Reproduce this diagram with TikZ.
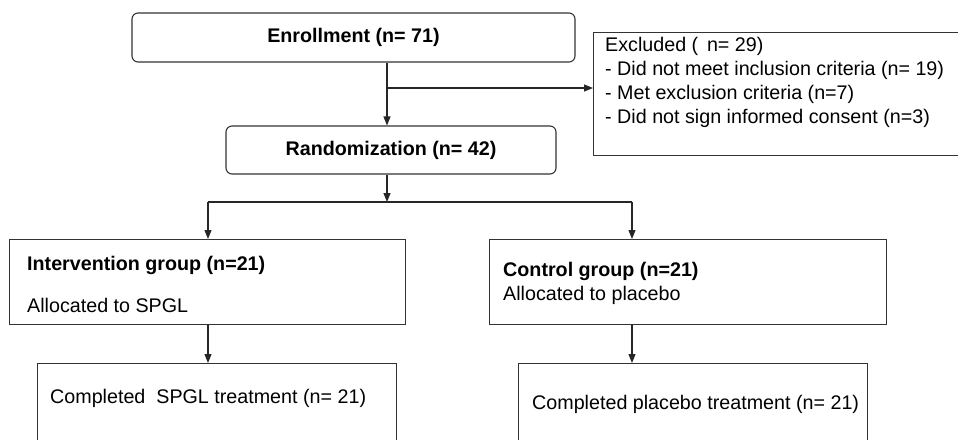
\documentclass[tikz,border=0pt]{standalone}
\usepackage{fontspec}
\setmainfont{Liberation Sans}
\usetikzlibrary{arrows.meta}

\tikzset{
  roundbox/.style={draw=black!80, line width=1.1pt, rounded corners=6pt, inner sep=0pt},
  plainbox/.style={draw=black!80, line width=1.1pt, inner sep=0pt, anchor=north west},
  boxtext/.style={inner sep=0pt, anchor=west},
  flow/.style={draw=black!85, line width=1.1pt, -{Triangle[length=9pt,width=7pt]}},
}

\begin{document}
\begin{tikzpicture}[x=1pt,y=-1pt,font=\fontsize{19.7}{24}\selectfont]
  \useasboundingbox (0,0) rectangle (958,439);

  % top part
  \node[roundbox, minimum width=443pt, minimum height=49pt] (enrol) at (353.5,37.5) {\textbf{Enrollment (n= 71)}};
  \node[roundbox, minimum width=330pt, minimum height=48pt] (random) at (391,150) {\textbf{Randomization (n= 42)}};

  \node[plainbox, minimum width=380pt, minimum height=123pt] (excl) at (593,32) {};
  \node[inner sep=0pt, anchor=north west, align=left] (excltext) at (605,37)
    {Excluded (\, n= 29)\\- Did not meet inclusion criteria (n= 19)\\- Met exclusion criteria (n=7)\\- Did not sign informed consent (n=3)};

  \coordinate (split) at (387,88);
  \draw[flow] (split |- enrol.south) -- (split |- random.north);
  \draw[flow] (split) -- (split -| excl.west);

  % groups
  \coordinate (fork) at (387,202);
  \coordinate (forkl) at (208,202);
  \coordinate (forkr) at (632,202);

  \node[plainbox, minimum width=396pt, minimum height=85pt] (interv) at (9,239) {};
  \node[boxtext] (intervhead) at (27,265) {\textbf{Intervention group (n=21)}};
  \node[boxtext] (intervalloc) at (27,305) {Allocated to SPGL};

  \node[plainbox, minimum width=397pt, minimum height=85pt] (control) at (489,239) {};
  \node[boxtext] (controlhead) at (503,271) {\textbf{Control group (n=21)}};
  \node[boxtext] (controlalloc) at (503,295) {Allocated to placebo};

  \node[plainbox, minimum width=359pt, minimum height=100pt] (doneint) at (37,363) {};
  \node[boxtext] (doneinttext) at (50,398) {Completed \ SPGL treatment (n= 21)};

  \node[plainbox, minimum width=349pt, minimum height=100pt] (donectl) at (518,363) {};
  \node[boxtext] (donectltext) at (532,404) {Completed placebo treatment (n= 21)};

  \draw[flow] (fork |- random.south) -- (fork);
  \draw[draw=black!85, line width=1.1pt] (forkl) -- (forkr);
  \draw[flow] (forkl) -- (forkl |- interv.north);
  \draw[flow] (forkr) -- (forkr |- control.north);
  \draw[flow] (forkl |- interv.south) -- (forkl |- doneint.north);
  \draw[flow] (forkr |- control.south) -- (forkr |- donectl.north);
\end{tikzpicture}
\end{document}
